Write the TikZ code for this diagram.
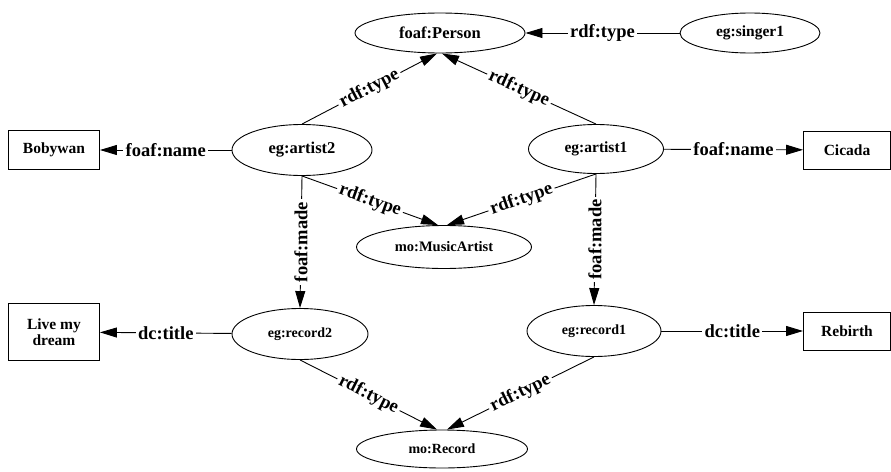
\documentclass[tikz,border=0pt]{standalone}
\usepackage{fontspec}
\setmainfont{Liberation Serif}
\usetikzlibrary{arrows.meta,shapes.geometric}
\newcommand{\resfont}[1]{\fontsize{#1}{#1}\selectfont\bfseries}
\begin{document}
\begin{tikzpicture}[x=1pt,y=-1pt,
  res/.style={ellipse,draw,line width=0.9pt,inner sep=0pt,font=\resfont{15.5}},
  lit/.style={rectangle,draw,line width=0.9pt,inner sep=0pt,align=center,font=\resfont{15.5}},
  lbl/.style={fill=white,inner sep=2.5pt,font=\resfont{18.5}},
  rel/.style={draw,line width=0.9pt,-{Triangle[length=17pt,width=10pt]}}]
\useasboundingbox (0,0) rectangle (891,471);

% resources
\node[res,minimum width=170pt,minimum height=40pt,font=\resfont{16.5}] (person) at (440,33) {foaf:Person};
\node[res,minimum width=140pt,minimum height=40pt] (singer1) at (750,33) {eg:singer1};
\node[res,minimum width=140pt,minimum height=51pt,font=\resfont{16.5}] (artist2) at (302,150) {eg:artist2};
\node[res,minimum width=135pt,minimum height=49pt] (artist1) at (596,149) {eg:artist1};
\node[res,minimum width=175pt,minimum height=43pt,font=\resfont{14.5}] (martist) at (444,247) {mo:MusicArtist};
\node[res,minimum width=136pt,minimum height=51pt,font=\resfont{14}] (record2) at (300,334) {eg:record2};
\node[res,minimum width=134pt,minimum height=51pt,font=\resfont{14}] (record1) at (594,331) {eg:record1};
\node[res,minimum width=171pt,minimum height=38pt,font=\resfont{14}] (mrecord) at (442,449) {mo:Record};

% literals
\node[lit,minimum width=91pt,minimum height=39pt] (bobywan) at (54,150) {Bobywan};
\node[lit,minimum width=87pt,minimum height=38pt] (cicada) at (847,150) {Cicada};
\node[lit,minimum width=91pt,minimum height=57pt] (dream) at (54,332) {Live my\\dream};
\node[lit,minimum width=87pt,minimum height=38pt] (rebirth) at (847,331) {Rebirth};

% properties
\draw[rel] (singer1) -- node[lbl]{rdf:type} (person);
\draw[rel] (artist2.north) -- node[lbl,sloped]{rdf:type} ([xshift=-3pt]person.south);
\draw[rel] (artist1.north) -- node[lbl,sloped]{rdf:type} ([xshift=2pt]person.south);
\draw[rel] (artist2) -- node[lbl]{foaf:name} (bobywan);
\draw[rel] (artist1) -- node[lbl]{foaf:name} (cicada);
\draw[rel] (artist2.south) -- node[lbl,sloped]{rdf:type} ([xshift=-6pt]martist.north);
\draw[rel] (artist1.south) -- node[lbl,sloped]{rdf:type} ([xshift=3pt]martist.north);
\draw[rel] (artist2.south) -- node[lbl,rotate=90]{foaf:made} (record2.north);
\draw[rel] (artist1.south) -- node[lbl,rotate=90]{foaf:made} (record1.north);
\draw[rel] (record2) -- node[lbl]{dc:title} (dream);
\draw[rel] (record1) -- node[lbl]{dc:title} (rebirth);
\draw[rel] (record2.south) -- node[lbl,sloped]{rdf:type} ([xshift=-5pt]mrecord.north);
\draw[rel] (record1.south) -- node[lbl,sloped]{rdf:type} ([xshift=5pt]mrecord.north);
\end{tikzpicture}
\end{document}
